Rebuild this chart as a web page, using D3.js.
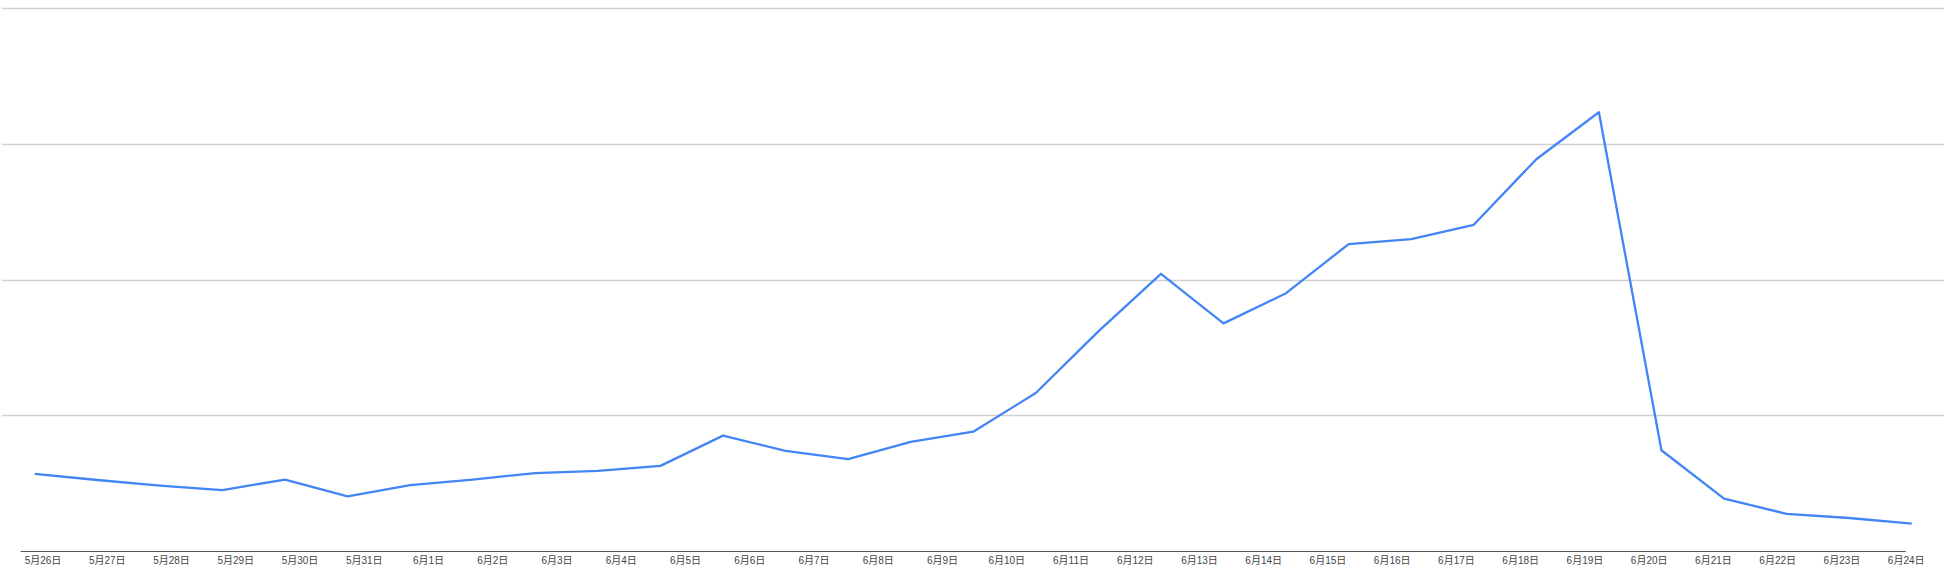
<!DOCTYPE html>
<html>
<head>
<meta charset="utf-8">
<script src="https://cdn.jsdelivr.net/npm/d3@7/dist/d3.min.js"></script>
<style>
  html, body { margin: 0; padding: 0; background: #ffffff; }
  svg { display: block; }
</style>
</head>
<body>
<svg id="chart" width="1950" height="565"></svg>
<script>
// Tick labels shown under the axis (30 labels)
const tickLabels = [
  "5月26日","5月27日","5月28日","5月29日","5月30日","5月31日",
  "6月1日","6月2日","6月3日","6月4日","6月5日","6月6日","6月7日","6月8日",
  "6月9日","6月10日","6月11日","6月12日","6月13日","6月14日","6月15日",
  "6月16日","6月17日","6月18日","6月19日","6月20日","6月21日","6月22日",
  "6月23日","6月24日"
];

// Series values (31 points)
const values = [
  56.8, 52.3, 48.2, 44.9, 52.6, 40.3, 48.6, 52.6, 57.4, 59.0,
  62.7, 85.0, 73.7, 67.6, 80.4, 87.9, 116.4, 161.8, 204.2, 167.7,
  189.9, 226.1, 229.8, 240.3, 288.6, 323.2, 74.2, 38.6, 27.4, 24.3,
  20.2
];
const pointIndex = values.map((v, i) => i);

// Gridline values
const gridValues = [100, 200, 300, 400];

const svg = d3.select("#chart");

const y = d3.scaleLinear().domain([0, 400]).range([551, 8]);
const xPoints = d3.scalePoint().domain(pointIndex).range([34.8, 1911.7]);
const xLabels = d3.scalePoint().domain(tickLabels).range([42.5, 1905.7]);

// Gridlines
svg.append("g")
  .selectAll("line")
  .data(gridValues)
  .join("line")
  .attr("x1", 2)
  .attr("x2", 1944)
  .attr("y1", d => Math.round(y(d)) + 0.5)
  .attr("y2", d => Math.round(y(d)) + 0.5)
  .attr("stroke", "#cfcfcf")
  .attr("stroke-width", 1.3);

// Line
const line = d3.line()
  .x((d, i) => xPoints(i))
  .y(d => y(d));

svg.append("path")
  .datum(values)
  .attr("d", line)
  .attr("fill", "none")
  .attr("stroke", "#4285f4")
  .attr("stroke-width", 2.3)
  .attr("stroke-linejoin", "round");

// Baseline
svg.append("line")
  .attr("x1", 20.7)
  .attr("x2", 1905.7)
  .attr("y1", Math.round(y(0)) + 0.5)
  .attr("y2", Math.round(y(0)) + 0.5)
  .attr("stroke", "#555555")
  .attr("stroke-width", 1.2);

// X axis labels
const axis = d3.axisBottom(xLabels).tickSize(0).tickPadding(0);
const gx = svg.append("g")
  .attr("transform", `translate(0, ${y(0)})`)
  .call(axis);
gx.select(".domain").remove();
gx.selectAll("text")
  .attr("y", 13)
  .attr("dy", 0)
  .attr("fill", "#444444")
  .style("font-family", "'Liberation Sans', Arial, 'Noto Sans CJK SC', sans-serif")
  .style("font-size", "10px");
</script>
</body>
</html>
